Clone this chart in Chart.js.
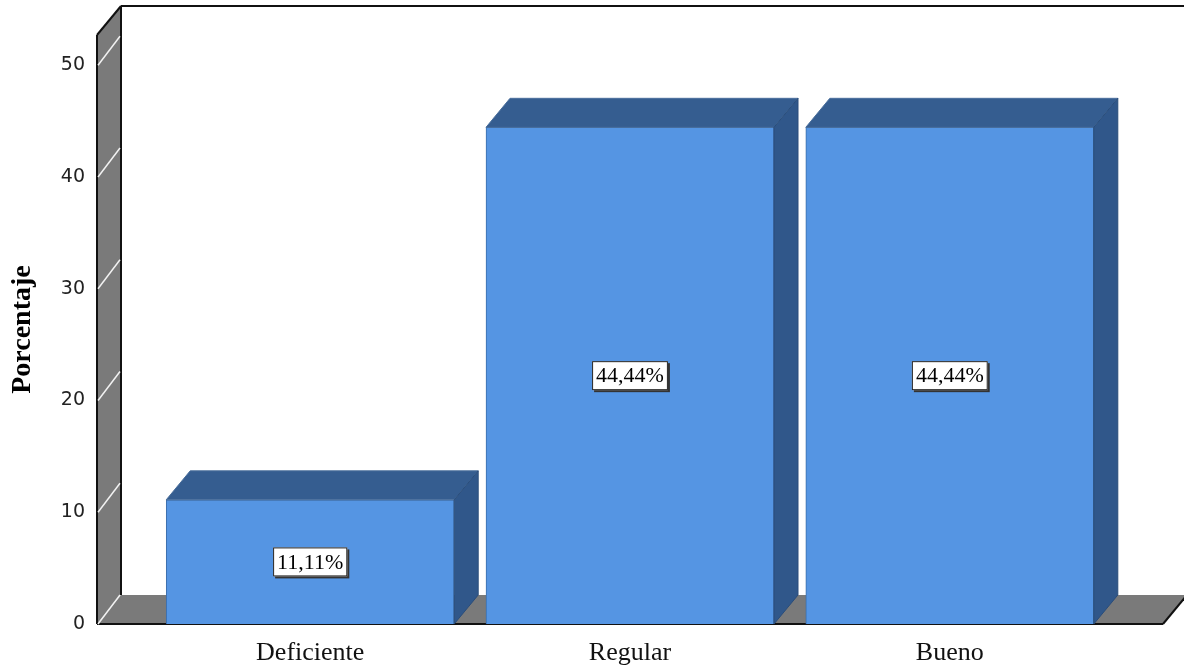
<!DOCTYPE html>
<html>
<head>
<meta charset="utf-8">
<script src="https://cdn.jsdelivr.net/npm/chart.js@4.4.1/dist/chart.umd.min.js"></script>
<style>
  body { margin: 0; background: #fff; }
  #wrap { width: 1184px; height: 668px; }
</style>
</head>
<body>
<div id="wrap"><canvas id="myChart" width="1184" height="668"></canvas></div>
<script>
let categorias = ["Deficiente", "Regular", "Bueno"];
let porcentajes = [11.11, 44.44, 44.44];
let ticksY = [0, 10, 20, 30, 40, 50];

// desplazamiento de la profundidad 3D
const dx = 24;
const dy = -29;

function poly(ctx, pts, fill, stroke) {
  ctx.beginPath();
  ctx.moveTo(pts[0][0], pts[0][1]);
  for (let i = 1; i < pts.length; i++) ctx.lineTo(pts[i][0], pts[i][1]);
  ctx.closePath();
  if (fill) { ctx.fillStyle = fill; ctx.fill(); }
  if (stroke) { ctx.strokeStyle = stroke; ctx.stroke(); }
}

function linea(ctx, x1, y1, x2, y2) {
  ctx.beginPath();
  ctx.moveTo(x1, y1);
  ctx.lineTo(x2, y2);
  ctx.stroke();
}

const tresD = {
  id: "tresD",
  beforeDatasetsDraw(chart) {
    const ctx = chart.ctx;
    const a = chart.chartArea;
    const y = chart.scales.y;
    ctx.save();
    // borde superior del fondo
    ctx.strokeStyle = "#111";
    ctx.lineWidth = 2;
    linea(ctx, a.left + dx, a.top + dy, a.right + dx + 10, a.top + dy);
    // piso
    poly(ctx, [[a.left, a.bottom], [a.right, a.bottom], [a.right + dx, a.bottom + dy], [a.left + dx, a.bottom + dy]], "#7a7a7a");
    linea(ctx, a.left, a.bottom, a.right, a.bottom);
    linea(ctx, a.right, a.bottom, a.right + dx, a.bottom + dy);
    // pared
    poly(ctx, [[a.left, a.bottom], [a.left, a.top], [a.left + dx, a.top + dy], [a.left + dx, a.bottom + dy]], "#7a7a7a");
    ctx.lineWidth = 2;
    ctx.strokeStyle = "#111";
    linea(ctx, a.left, a.bottom, a.left, a.top);
    linea(ctx, a.left, a.top, a.left + dx, a.top + dy);
    linea(ctx, a.left + dx, a.top + dy, a.left + dx, a.bottom + dy);
    // marcas en la pared
    ctx.strokeStyle = "#f2f2f2";
    ctx.lineWidth = 1.5;
    ticksY.forEach(v => {
      const py = y.getPixelForValue(v);
      linea(ctx, a.left + 1, py, a.left + dx - 1, py + dy);
    });
    ctx.restore();
  },
  afterDatasetsDraw(chart) {
    const ctx = chart.ctx;
    const meta = chart.getDatasetMeta(0);
    ctx.save();
    ctx.lineWidth = 1;
    meta.data.forEach((bar, i) => {
      const p = bar.getProps(["x", "y", "base", "width"], true);
      const l = p.x - p.width / 2;
      const r = p.x + p.width / 2;
      // cara superior
      poly(ctx, [[l, p.y], [r, p.y], [r + dx, p.y + dy], [l + dx, p.y + dy]], "#355d90", "#4a6f9c");
      // cara lateral
      poly(ctx, [[r, p.y], [r, p.base], [r + dx, p.base + dy], [r + dx, p.y + dy]], "#30578a", "#2a4d7a");

      // etiqueta
      const txt = porcentajes[i].toFixed(2).replace(".", ",") + "%";
      ctx.font = "22px 'Liberation Serif'";
      const w = ctx.measureText(txt).width + 8;
      const h = 29;
      const cx = p.x;
      const cy = (p.y + p.base) / 2;
      ctx.fillStyle = "#333";
      ctx.fillRect(cx - w / 2 + 2, cy - h / 2 + 2, w, h);
      ctx.fillStyle = "#fff";
      ctx.fillRect(cx - w / 2, cy - h / 2, w, h);
      ctx.strokeStyle = "#222";
      ctx.strokeRect(cx - w / 2 + 0.5, cy - h / 2 + 0.5, w - 1, h - 1);
      ctx.fillStyle = "#000";
      ctx.textAlign = "center";
      ctx.textBaseline = "middle";
      ctx.fillText(txt, cx, cy + 1);
    });
    ctx.restore();
  }
};

function getGraph() {
  const ctx = document.getElementById("myChart").getContext("2d");
  new Chart(ctx, {
    type: "bar",
    data: {
      datasets: [
        {
          label: "Porcentaje",
          data: categorias.map((c, i) => ({ x: i, y: porcentajes[i] })),
          backgroundColor: "#5595e3",
          borderColor: "#3b6ca8",
          borderWidth: 1,
          barThickness: 288
        }
      ]
    },
    options: {
      responsive: false,
      animation: false,
      layout: { padding: { left: 0, right: 21, top: 35, bottom: 0 } },
      plugins: { legend: { display: false }, tooltip: { enabled: false } },
      scales: {
        x: {
          type: "linear",
          min: -2 / 3,
          max: 8 / 3,
          offset: false,
          grid: { display: false, drawTicks: false },
          border: { display: false },
          afterBuildTicks: s => { s.ticks = categorias.map((c, i) => ({ value: i })); },
          afterFit: s => { s.height = 44; },
          ticks: {
            callback: v => categorias[v],
            color: "#111",
            padding: 14,
            maxRotation: 0,
            font: { family: "'Liberation Serif'", size: 26 }
          }
        },
        y: {
          min: 0,
          max: 52.7,
          grid: { display: false, drawTicks: false },
          border: { display: false },
          afterBuildTicks: s => { s.ticks = ticksY.map(v => ({ value: v })); },
          afterFit: s => { s.width = 97; },
          ticks: {
            color: "#222",
            padding: 12,
            font: { family: "'DejaVu Sans'", size: 19 }
          },
          title: {
            display: true,
            text: "Porcentaje",
            color: "#000",
            padding: 6,
            font: { family: "'Liberation Serif'", size: 28, weight: "bold" }
          }
        }
      }
    },
    plugins: [tresD]
  });
}

window.onload = function () {
  getGraph();
};
</script>
</body>
</html>
